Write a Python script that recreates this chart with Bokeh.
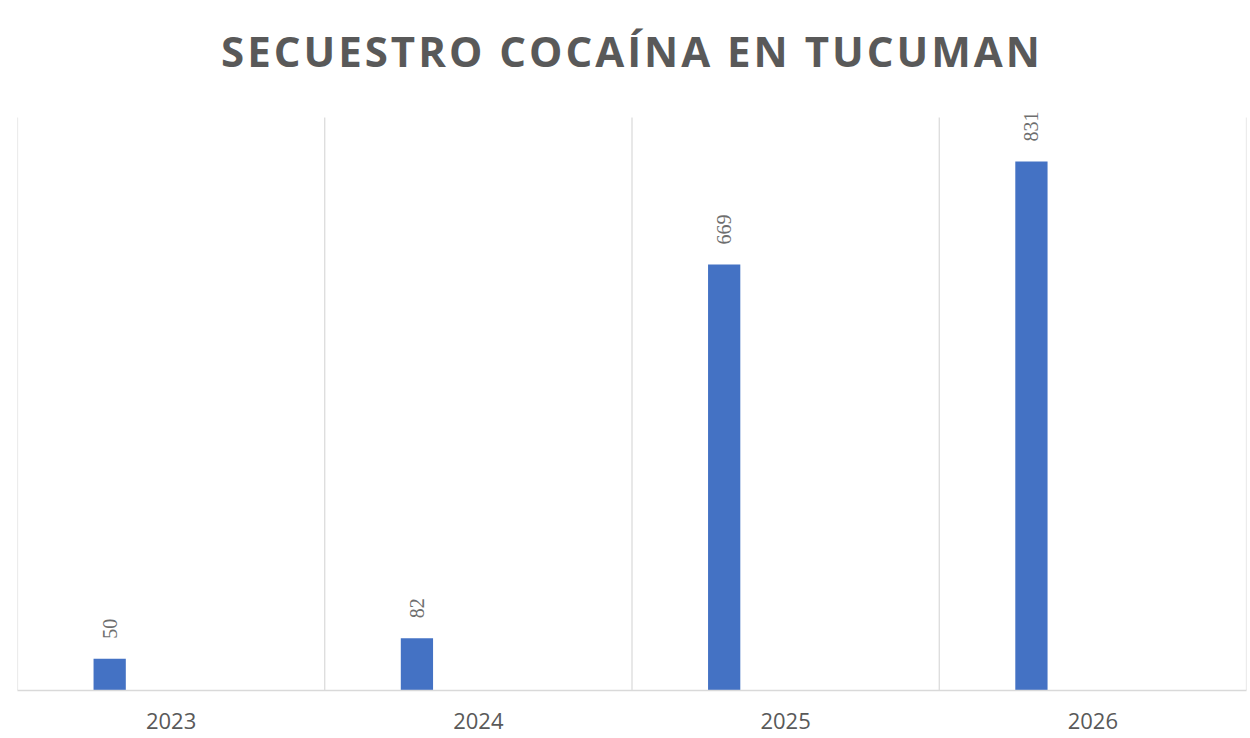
import math
from bokeh.plotting import figure
from bokeh.models import ColumnDataSource, Range1d, FixedTicker, Div, LabelSet
from bokeh.layouts import column
from bokeh.transform import dodge
from bokeh.embed import file_html
from bokeh.resources import INLINE

title_text = "SECUESTRO COCAÍNA EN TUCUMAN"
years = ["2023", "2024", "2025", "2026"]
seized = [50, 82, 669, 831]
y_max = 900

idx = [i for i in range(len(years))]
src = ColumnDataSource(dict(idx=idx, val=seized, lbl=[str(v) for v in seized]))

title = Div(
    text=('<div style="width:1250px;text-align:center;font-family:\'Open Sans\';'
          'font-weight:bold;font-size:42px;letter-spacing:3px;color:#595959;'
          'line-height:1;padding-top:30px;padding-left:14px;">' + title_text + '</div>'),
    width=1250, height=90, margin=0,
)

# frame extends a bit above the value-axis maximum so top labels are not clipped
frame_px = 595.0
plot_px = 573.0
p = figure(width=1250, height=648, output_backend="svg", toolbar_location=None,
           x_range=Range1d(0, len(years)), y_range=Range1d(0, y_max * frame_px / plot_px),
           min_border_left=17, min_border_right=4, min_border_top=5, min_border_bottom=48,
           margin=0)
p.outline_line_color = None
p.background_fill_color = "white"
p.border_fill_color = None

# category separators (gridlines) up to the axis maximum
bounds = list(range(len(years) + 1))
p.segment(x0=bounds, y0=[0] * len(bounds), x1=bounds, y1=[y_max] * len(bounds),
          line_color="#d9d9d9", line_width=1.2)

p.vbar(x=dodge("idx", 0.3, range=p.x_range), top="val", width=0.105, bottom=0,
       source=src, fill_color="#4472C4", line_color=None)
labels = LabelSet(x=dodge("idx", 0.3, range=p.x_range), y="val", text="lbl", source=src,
                  angle=math.pi / 2, text_align="left", text_baseline="middle", y_offset=20,
                  text_font="Open Sans", text_font_size="20px", text_color="#6e6e6e")
p.add_layout(labels)

p.yaxis.visible = False
p.ygrid.visible = False
p.xgrid.visible = False

ax = p.xaxis[0]
ax.ticker = FixedTicker(ticks=[i + 0.5 for i in idx])
ax.major_label_overrides = {i + 0.5: y for i, y in zip(idx, years)}
ax.axis_line_color = "#d9d9d9"
ax.axis_line_width = 1.5
ax.major_tick_line_color = None
ax.minor_tick_line_color = None
ax.major_label_text_font = "Open Sans"
ax.major_label_text_font_size = "22px"
ax.major_label_text_color = "#595959"
ax.major_label_standoff = 16

layout = column(title, p, margin=0, spacing=0)
open("out.html", "w").write(file_html(layout, INLINE))
